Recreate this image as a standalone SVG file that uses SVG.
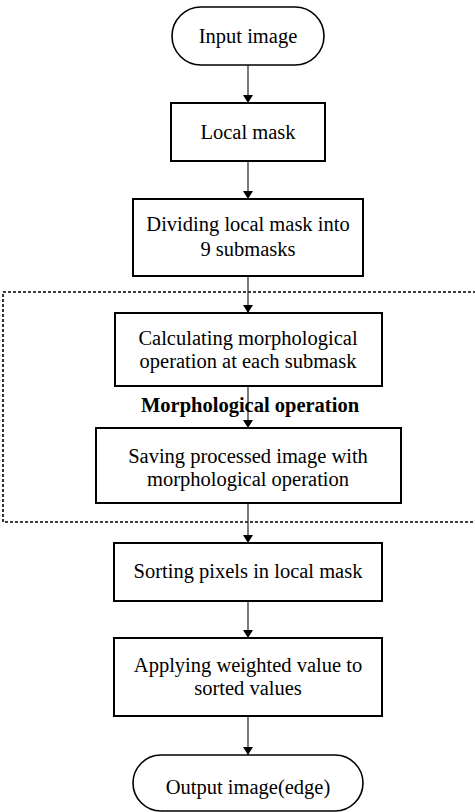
<svg xmlns="http://www.w3.org/2000/svg" width="475" height="812" viewBox="0 0 475 812">
<style>
.box{fill:#fff;stroke:#000;stroke-width:2}
.term{fill:#fff;stroke:#000;stroke-width:1.6}
.t{font-family:"Liberation Serif","Times New Roman",serif;font-size:20.5px;fill:#000;text-anchor:middle}
.b{font-weight:bold}
.c{stroke:#222;stroke-width:1.2;fill:none;marker-end:url(#ah)}
.dash{fill:none;stroke:#000;stroke-width:1.6;stroke-dasharray:3,2}
</style>
<defs>
<marker id="ah" viewBox="0 0 8 10" refX="8" refY="5" markerWidth="8" markerHeight="10" markerUnits="userSpaceOnUse" orient="auto">
<path d="M0,0 L8,5 L0,10 z" fill="#000" transform="rotate(0)"/>
</marker>
</defs>
<rect id="group-morph" class="dash" x="3" y="292" width="480" height="230"/>
<g id="connectors">
<line class="c" x1="248" y1="65" x2="248" y2="103"/>
<line class="c" x1="248" y1="161" x2="248" y2="199"/>
<line class="c" x1="248" y1="276" x2="248" y2="313"/>
<line class="c" x1="248" y1="386" x2="248" y2="428"/>
<line class="c" x1="248" y1="503" x2="248" y2="543"/>
<line class="c" x1="248" y1="601" x2="248" y2="638"/>
<line class="c" x1="248" y1="716" x2="248" y2="755"/>
</g>
<g id="input">
<rect class="term" x="172" y="7" width="152" height="58" rx="29" ry="29"/>
<text class="t" x="248" y="43">Input image</text>
</g>
<g id="localmask">
<rect class="box" x="171" y="103" width="154" height="58"/>
<text class="t" x="248" y="139">Local mask</text>
</g>
<g id="dividing">
<rect class="box" x="133" y="199" width="230" height="77"/>
<text class="t" x="248" y="231">Dividing local mask into</text>
<text class="t" x="248" y="256">9 submasks</text>
</g>
<g id="calculating">
<rect class="box" x="115" y="313" width="267" height="73"/>
<text class="t" x="248" y="345">Calculating morphological</text>
<text class="t" x="248" y="368">operation at each submask</text>
</g>
<text id="morph-label" class="t b" x="250" y="412">Morphological operation</text>
<g id="saving">
<rect class="box" x="96" y="428" width="305" height="75"/>
<text class="t" x="248" y="463">Saving processed image with</text>
<text class="t" x="248" y="486">morphological operation</text>
</g>
<g id="sorting">
<rect class="box" x="114" y="543" width="268" height="58"/>
<text class="t" x="248" y="578">Sorting pixels in local mask</text>
</g>
<g id="applying">
<rect class="box" x="114" y="638" width="268" height="78"/>
<text class="t" x="248" y="672">Applying weighted value to</text>
<text class="t" x="248" y="695">sorted values</text>
</g>
<g id="output">
<rect class="term" x="133" y="755" width="230" height="56" rx="28" ry="28"/>
<text class="t" x="248" y="794">Output image(edge)</text>
</g>
</svg>
